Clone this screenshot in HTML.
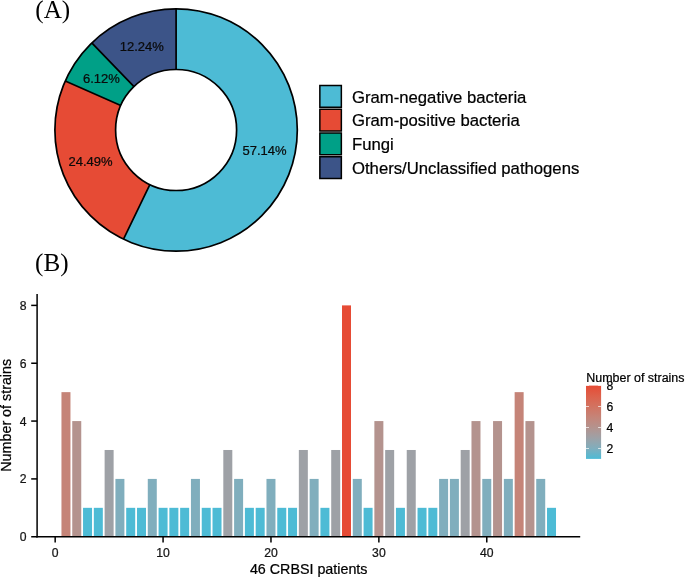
<!DOCTYPE html>
<html lang="en"><head><meta charset="utf-8"><title>Pathogen distribution in CRBSI patients</title>
<style>html,body{margin:0;padding:0;background:#fff}body{width:685px;height:578px;overflow:hidden}svg{display:block;will-change:transform}text{font-family:"Liberation Sans", Arial, Helvetica, sans-serif;stroke:#000;stroke-width:.22px}.serif{font-family:"Liberation Serif", "Times New Roman", Times, serif;stroke:none}</style>
</head><body>
<svg width="685" height="578" viewBox="0 0 685 578">
<rect width="685" height="578" fill="#fff"/>
<g>
<path d="M176.10 8.80A121.20 121.20 0 1 1 123.51 239.20L149.85 184.51A60.50 60.50 0 1 0 176.10 69.50Z" fill="#4DBBD5"/>
<path d="M123.51 239.20A121.20 121.20 0 0 1 65.27 80.94L120.78 105.51A60.50 60.50 0 0 0 149.85 184.51Z" fill="#E64B35"/>
<path d="M65.27 80.94A121.20 121.20 0 0 1 91.78 42.94L134.01 86.54A60.50 60.50 0 0 0 120.78 105.51Z" fill="#00A087"/>
<path d="M91.78 42.94A121.20 121.20 0 0 1 176.10 8.80L176.10 69.50A60.50 60.50 0 0 0 134.01 86.54Z" fill="#3C5488"/>
</g>
<g stroke="#000" stroke-width="1.70" fill="none">
<circle cx="176.10" cy="130.00" r="121.20"/>
<circle cx="176.10" cy="130.00" r="60.50"/>
<path d="M176.10 69.50L176.10 8.80M149.85 184.51L123.51 239.20M120.78 105.51L65.27 80.94M134.01 86.54L91.78 42.94"/>
</g>
<g font-size="13px" fill="#0d0d0d" text-anchor="middle">
<text x="264.5" y="154.9">57.14%</text>
<text x="90.6" y="166.1">24.49%</text>
<text x="101.4" y="82.7">6.12%</text>
<text x="141.8" y="50.5">12.24%</text>
</g>
<g stroke="#000" stroke-width="1.5">
<rect x="319.85" y="85.50" width="21.50" height="21.75" fill="#4DBBD5"/>
<rect x="319.85" y="109.25" width="21.50" height="21.75" fill="#E64B35"/>
<rect x="319.85" y="133.00" width="21.50" height="21.75" fill="#00A087"/>
<rect x="319.85" y="156.75" width="21.50" height="21.75" fill="#3C5488"/>
</g>
<g font-size="16.7px" fill="#000">
<text x="352.0" y="102.7">Gram-negative bacteria</text>
<text x="352.0" y="126.4">Gram-positive bacteria</text>
<text x="352.0" y="150.1">Fungi</text>
<text x="352.0" y="173.8">Others/Unclassified pathogens</text>
</g>
<text class="serif" x="35.3" y="17.8" font-size="25.2px" fill="#000">(A)</text>
<text class="serif" x="35.1" y="270.9" font-size="25.2px" fill="#000">(B)</text>
<g>
<rect x="61.46" y="392.15" width="9.00" height="144.60" fill="#C58478"/>
<rect x="72.25" y="421.07" width="9.00" height="115.68" fill="#B4938E"/>
<rect x="83.04" y="507.83" width="9.00" height="28.92" fill="#4DBBD5"/>
<rect x="93.83" y="507.83" width="9.00" height="28.92" fill="#4DBBD5"/>
<rect x="104.62" y="449.99" width="9.00" height="86.76" fill="#9EA1A6"/>
<rect x="115.41" y="478.91" width="9.00" height="57.84" fill="#80AEBD"/>
<rect x="126.20" y="507.83" width="9.00" height="28.92" fill="#4DBBD5"/>
<rect x="136.99" y="507.83" width="9.00" height="28.92" fill="#4DBBD5"/>
<rect x="147.78" y="478.91" width="9.00" height="57.84" fill="#80AEBD"/>
<rect x="158.57" y="507.83" width="9.00" height="28.92" fill="#4DBBD5"/>
<rect x="169.36" y="507.83" width="9.00" height="28.92" fill="#4DBBD5"/>
<rect x="180.15" y="507.83" width="9.00" height="28.92" fill="#4DBBD5"/>
<rect x="190.94" y="478.91" width="9.00" height="57.84" fill="#80AEBD"/>
<rect x="201.73" y="507.83" width="9.00" height="28.92" fill="#4DBBD5"/>
<rect x="212.52" y="507.83" width="9.00" height="28.92" fill="#4DBBD5"/>
<rect x="223.31" y="449.99" width="9.00" height="86.76" fill="#9EA1A6"/>
<rect x="234.10" y="478.91" width="9.00" height="57.84" fill="#80AEBD"/>
<rect x="244.89" y="507.83" width="9.00" height="28.92" fill="#4DBBD5"/>
<rect x="255.68" y="507.83" width="9.00" height="28.92" fill="#4DBBD5"/>
<rect x="266.47" y="478.91" width="9.00" height="57.84" fill="#80AEBD"/>
<rect x="277.26" y="507.83" width="9.00" height="28.92" fill="#4DBBD5"/>
<rect x="288.05" y="507.83" width="9.00" height="28.92" fill="#4DBBD5"/>
<rect x="298.84" y="449.99" width="9.00" height="86.76" fill="#9EA1A6"/>
<rect x="309.63" y="478.91" width="9.00" height="57.84" fill="#80AEBD"/>
<rect x="320.42" y="507.83" width="9.00" height="28.92" fill="#4DBBD5"/>
<rect x="331.21" y="449.99" width="9.00" height="86.76" fill="#9EA1A6"/>
<rect x="342.00" y="305.39" width="9.00" height="231.36" fill="#E64B35"/>
<rect x="352.79" y="478.91" width="9.00" height="57.84" fill="#80AEBD"/>
<rect x="363.58" y="507.83" width="9.00" height="28.92" fill="#4DBBD5"/>
<rect x="374.37" y="421.07" width="9.00" height="115.68" fill="#B4938E"/>
<rect x="385.16" y="449.99" width="9.00" height="86.76" fill="#9EA1A6"/>
<rect x="395.95" y="507.83" width="9.00" height="28.92" fill="#4DBBD5"/>
<rect x="406.74" y="449.99" width="9.00" height="86.76" fill="#9EA1A6"/>
<rect x="417.53" y="507.83" width="9.00" height="28.92" fill="#4DBBD5"/>
<rect x="428.32" y="507.83" width="9.00" height="28.92" fill="#4DBBD5"/>
<rect x="439.11" y="478.91" width="9.00" height="57.84" fill="#80AEBD"/>
<rect x="449.90" y="478.91" width="9.00" height="57.84" fill="#80AEBD"/>
<rect x="460.69" y="449.99" width="9.00" height="86.76" fill="#9EA1A6"/>
<rect x="471.48" y="421.07" width="9.00" height="115.68" fill="#B4938E"/>
<rect x="482.27" y="478.91" width="9.00" height="57.84" fill="#80AEBD"/>
<rect x="493.06" y="421.07" width="9.00" height="115.68" fill="#B4938E"/>
<rect x="503.85" y="478.91" width="9.00" height="57.84" fill="#80AEBD"/>
<rect x="514.64" y="392.15" width="9.00" height="144.60" fill="#C58478"/>
<rect x="525.43" y="421.07" width="9.00" height="115.68" fill="#B4938E"/>
<rect x="536.22" y="478.91" width="9.00" height="57.84" fill="#80AEBD"/>
<rect x="547.01" y="507.83" width="9.00" height="28.92" fill="#4DBBD5"/>
</g>
<g stroke="#000" stroke-width="1.5" fill="none" stroke-linecap="butt">
<path d="M37.10 294.00V537.50"/>
<path d="M36.35 536.75H580.20"/>
<path d="M31.20 536.75H37.10"/>
<path d="M31.20 478.91H37.10"/>
<path d="M31.20 421.07H37.10"/>
<path d="M31.20 363.23H37.10"/>
<path d="M31.20 305.39H37.10"/>
<path d="M55.17 536.75V542.45"/>
<path d="M163.07 536.75V542.45"/>
<path d="M270.97 536.75V542.45"/>
<path d="M378.87 536.75V542.45"/>
<path d="M486.77 536.75V542.45"/>
</g>
<g font-size="12.2px" fill="#1a1a1a" text-anchor="end">
<text x="26.6" y="541.1">0</text>
<text x="26.6" y="483.3">2</text>
<text x="26.6" y="425.5">4</text>
<text x="26.6" y="367.6">6</text>
<text x="26.6" y="309.8">8</text>
</g>
<g font-size="12.2px" fill="#1a1a1a" text-anchor="middle">
<text x="55.2" y="557.3">0</text>
<text x="163.1" y="557.3">10</text>
<text x="271.0" y="557.3">20</text>
<text x="378.9" y="557.3">30</text>
<text x="486.8" y="557.3">40</text>
</g>
<text x="308.7" y="573.8" font-size="14.3px" fill="#000" text-anchor="middle">46 CRBSI patients</text>
<text transform="translate(11.1 415.3) rotate(-90)" font-size="14.3px" fill="#000" text-anchor="middle">Number of strains</text>
<defs><linearGradient id="cb" x1="0" y1="1" x2="0" y2="0">
<stop offset="0.0000" stop-color="#4DBBD5"/>
<stop offset="0.1429" stop-color="#80AEBD"/>
<stop offset="0.2857" stop-color="#9EA1A6"/>
<stop offset="0.4286" stop-color="#B4938E"/>
<stop offset="0.5714" stop-color="#C58478"/>
<stop offset="0.7143" stop-color="#D27361"/>
<stop offset="0.8571" stop-color="#DD614B"/>
<stop offset="1.0000" stop-color="#E64B35"/>
</linearGradient></defs>
<rect x="586.00" y="385.60" width="15.10" height="73.30" fill="url(#cb)"/>
<g stroke="#fff" stroke-width="0.7">
<path d="M586.00 448.50h3M601.10 448.50h-3"/>
<path d="M586.00 427.50h3M601.10 427.50h-3"/>
<path d="M586.00 406.50h3M601.10 406.50h-3"/>
<path d="M586.00 385.50h3M601.10 385.50h-3"/>
</g>
<text x="586.3" y="381.6" font-size="12.45px" fill="#000">Number of strains</text>
<g font-size="12.2px" fill="#000">
<text x="606.5" y="452.9">2</text>
<text x="606.5" y="431.9">4</text>
<text x="606.5" y="410.9">6</text>
<text x="606.5" y="389.9">8</text>
</g>
</svg>
</body></html>
